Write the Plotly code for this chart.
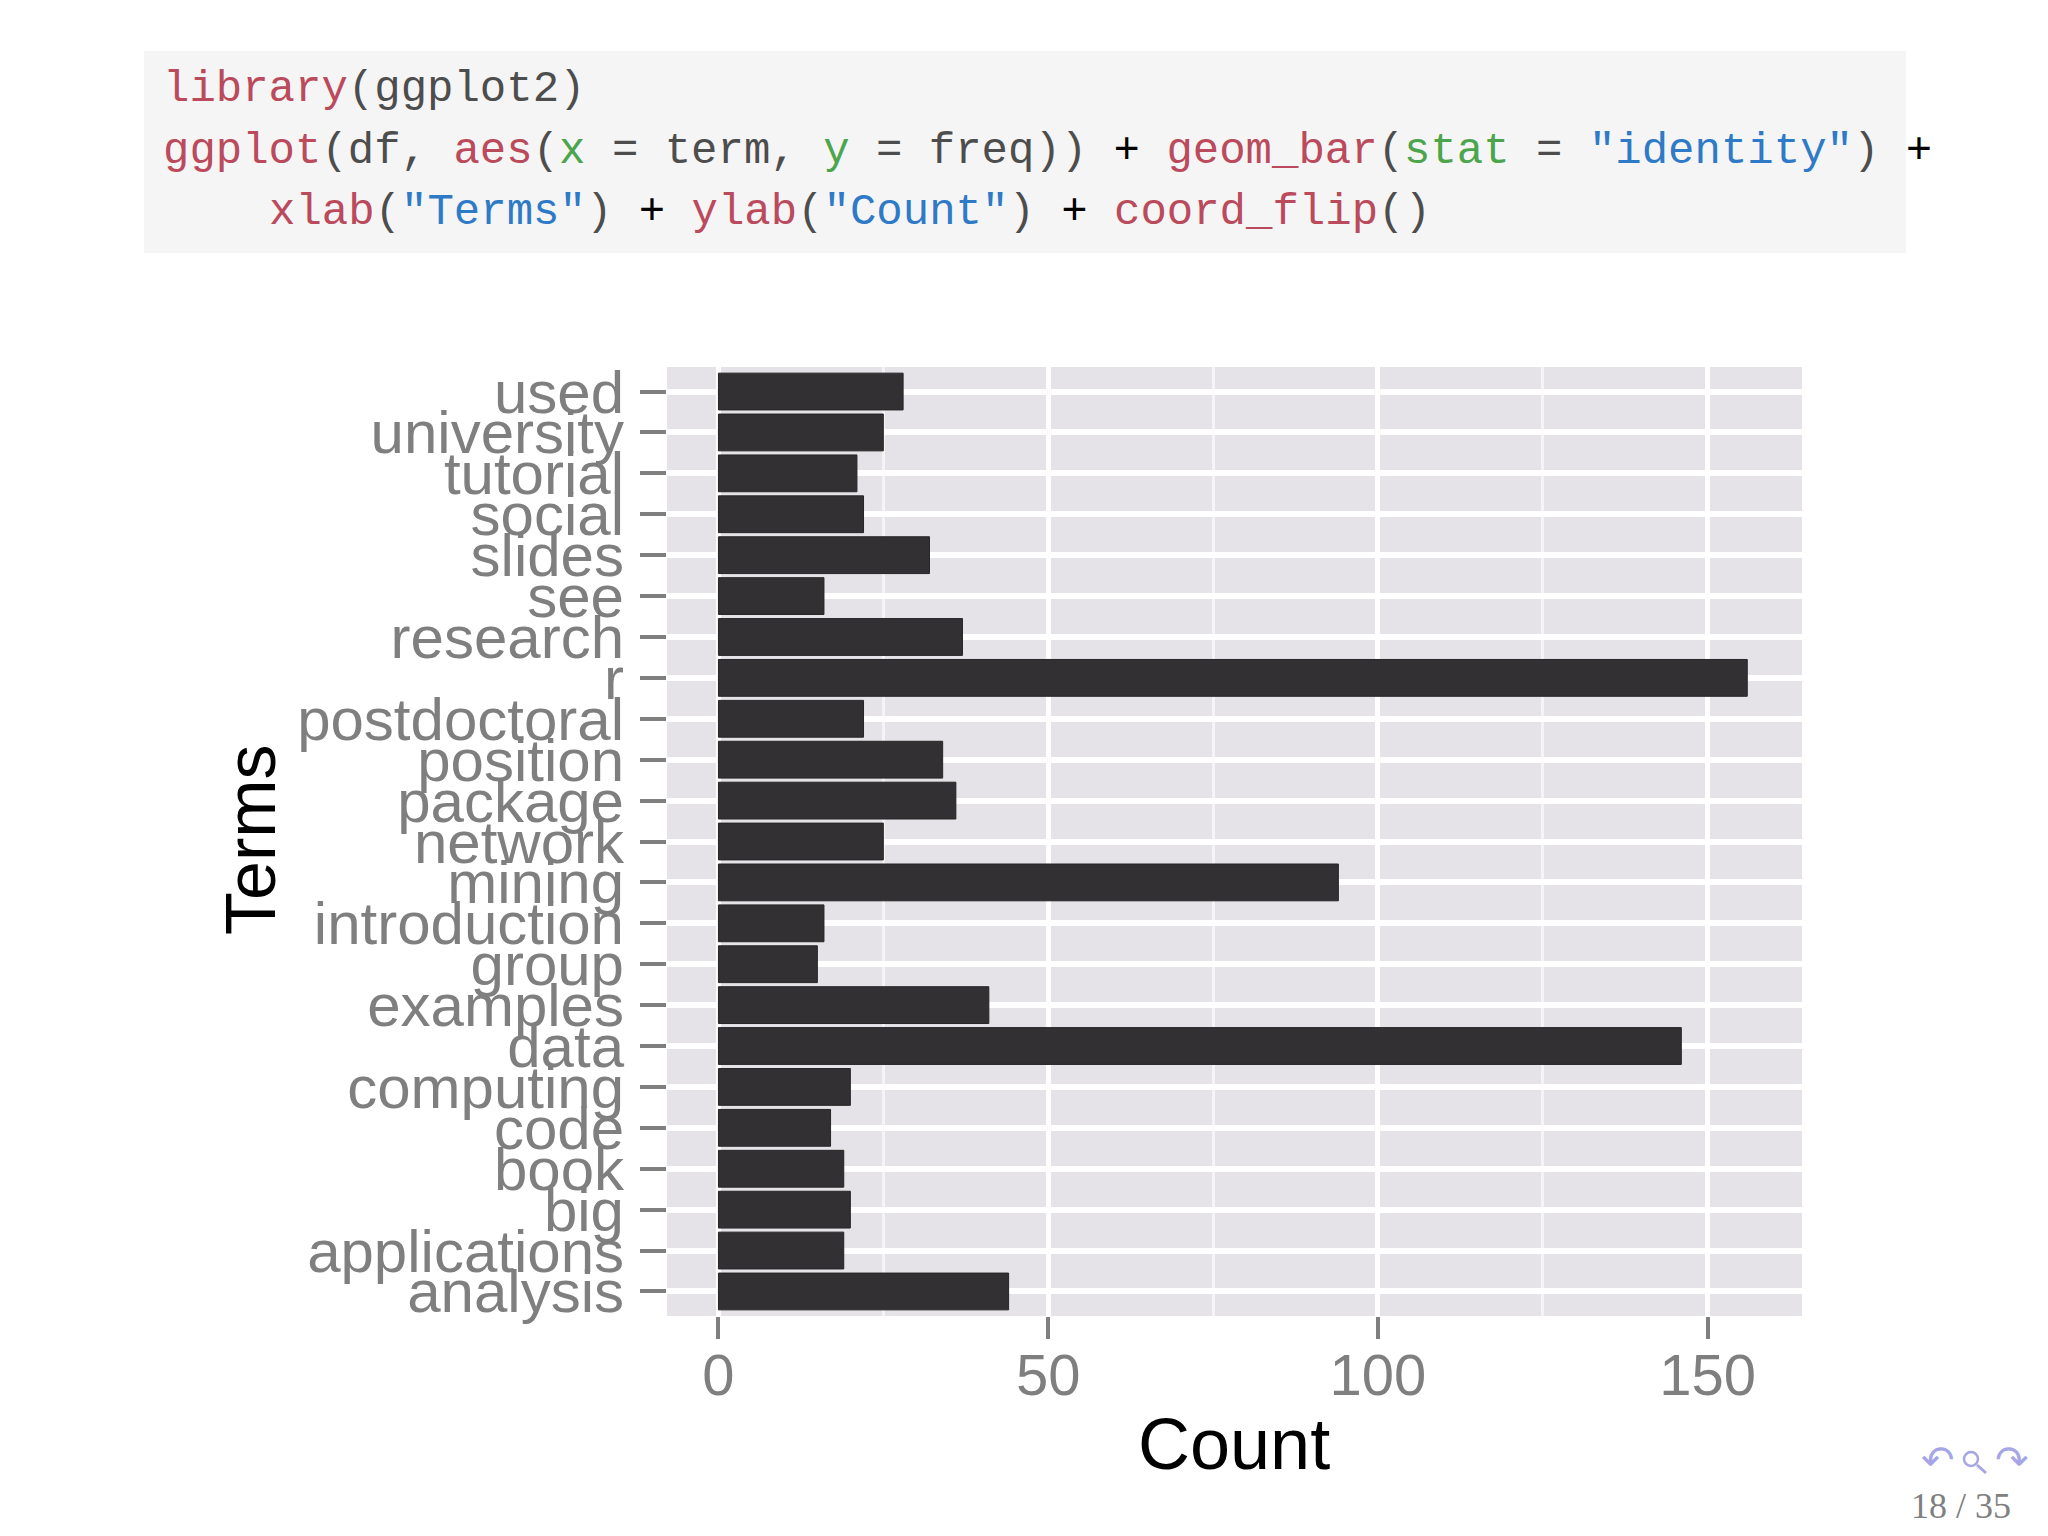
import plotly.graph_objects as go

# ---- data ----
terms = ["analysis", "applications", "big", "book", "code", "computing", "data",
         "examples", "group", "introduction", "mining", "network", "package",
         "position", "postdoctoral", "r", "research", "see", "slides", "social",
         "tutorial", "university", "used"]
freq = [44, 19, 20, 19, 17, 20, 146, 41, 15, 16, 94, 25, 36, 34, 22, 156, 37, 16,
        32, 22, 21, 25, 28]
x_ticks = [0, 50, 100, 150]
x_minor = [25, 75, 125]

# ---- layout geometry (page pixels; the page body has an 8px margin) ----
PAGE_W, PAGE_H = 2048, 1536
OFF = 8
L, R, T, B = 667, 1802, 367, 1316
PW, PH = R - L, B - T


def px(x):
    return (x - L) / PW


def py(y):
    return (B - y) / PH


KW = "#BA4A5C"
TX = "#4D4D4D"
GR = "#4CA54C"
BL = "#2E7AC6"
BK = "#000000"
NAV = "#A6A6E6"

code_lines = [
    (161, 89, [("library", KW), ("(ggplot2)", TX)]),
    (161, 151, [("ggplot", KW), ("(df, ", TX), ("aes", KW), ("(", TX), ("x", GR),
                (" = term, ", TX), ("y", GR), (" = freq)) ", TX), ("+", BK), (" ", TX),
                ("geom_bar", KW), ("(", TX), ("stat", GR), (" = ", TX),
                ("\"identity\"", BL), (") ", TX), ("+", BK)]),
    (267, 212, [("xlab", KW), ("(", TX), ("\"Terms\"", BL), (") ", TX), ("+", BK),
                (" ", TX), ("ylab", KW), ("(", TX), ("\"Count\"", BL), (") ", TX),
                ("+", BK), (" ", TX), ("coord_flip", KW), ("()", TX)]),
]

fig = go.Figure()
fig.add_trace(go.Bar(
    x=freq, y=terms, orientation="h", width=0.9,
    marker=dict(color="#333033", line=dict(color="#262626", width=1)),
    showlegend=False,
))

annotations = []
for x0, y0, segs in code_lines:
    txt = "".join(f"<span style='color:{c}'>{t}</span>" for t, c in segs)
    annotations.append(dict(
        x=px(x0), y=py(y0), xref="paper", yref="paper", xanchor="left",
        yanchor="middle", showarrow=False, text=txt,
        font=dict(family="Liberation Mono", size=44, color=TX),
    ))

# axis titles
annotations.append(dict(x=px(251), y=py(840), xref="paper", yref="paper",
                        xanchor="center", yanchor="middle", showarrow=False,
                        text="Terms", textangle=-90,
                        font=dict(family="Liberation Sans", size=70, color="black")))
annotations.append(dict(x=px(1234), y=py(1444), xref="paper", yref="paper",
                        xanchor="center", yanchor="middle", showarrow=False,
                        text="Count",
                        font=dict(family="Liberation Sans", size=72, color="black")))
# page number and nav icons
annotations.append(dict(x=px(1961), y=py(1506), xref="paper", yref="paper",
                        xanchor="center", yanchor="middle", showarrow=False,
                        text="18 / 35",
                        font=dict(family="Liberation Serif", size=36, color="#808080")))
for xi, sym in [(1938, "↶"), (2012, "↷")]:
    annotations.append(dict(x=px(xi), y=py(1460), xref="paper", yref="paper",
                            xanchor="center", yanchor="middle", showarrow=False,
                            text=sym,
                            font=dict(family="DejaVu Sans", size=40, color=NAV)))

shapes = [
    dict(type="rect", xref="paper", yref="paper", x0=px(144), x1=px(1906),
         y0=py(253), y1=py(51), fillcolor="#F5F5F5", line=dict(width=0),
         layer="below"),
    # magnifier icon
    dict(type="circle", xref="paper", yref="paper", x0=px(1964), x1=px(1978),
         y0=py(1466), y1=py(1452), line=dict(color=NAV, width=2.5)),
    dict(type="line", xref="paper", yref="paper", x0=px(1977), x1=px(1986),
         y0=py(1465), y1=py(1473), line=dict(color=NAV, width=3)),
]

fig.update_layout(
    width=PAGE_W - OFF, height=PAGE_H - OFF,
    margin=dict(l=L - OFF, r=PAGE_W - R, t=T - OFF, b=PAGE_H - B, autoexpand=False),
    paper_bgcolor="white", plot_bgcolor="#E5E3E7",
    annotations=annotations, shapes=shapes,
    xaxis=dict(
        range=[-7.8, 164.3], tickmode="array", tickvals=x_ticks,
        ticktext=[str(v) for v in x_ticks],
        showgrid=True, gridcolor="white", gridwidth=5, zeroline=False,
        ticks="outside", ticklen=22, tickwidth=4, tickcolor="#7F7F7F",
        ticklabelstandoff=-14,
        tickfont=dict(family="Liberation Sans", size=58, color="#7F7F7F"),
        minor=dict(tickmode="array", tickvals=x_minor, showgrid=True,
                   gridcolor="#F4F3F5", gridwidth=2.5, ticks=""),
        showline=False, fixedrange=True,
    ),
    yaxis=dict(
        type="category", categoryorder="array", categoryarray=terms,
        tickmode="array", tickvals=terms, ticktext=terms,
        range=[-0.6, len(terms) - 0.4],
        showgrid=True, gridcolor="white", gridwidth=6, zeroline=False,
        ticks="outside", ticklen=26, tickwidth=4, tickcolor="#7F7F7F",
        ticklabelstandoff=4,
        tickfont=dict(family="Liberation Sans", size=60, color="#7F7F7F"),
        showline=False, fixedrange=True,
    ),
)

fig.write_html("out.html")
